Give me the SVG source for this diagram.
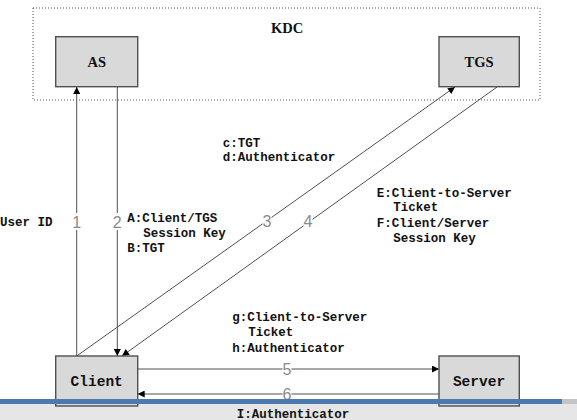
<svg xmlns="http://www.w3.org/2000/svg" width="577" height="420" viewBox="0 0 577 420">
<defs>
<style>
.box{fill:#d9d9d9;stroke:#505050;stroke-width:1.4}
.title{font-family:"Liberation Serif",serif;font-weight:bold;font-size:14.5px;fill:#111;text-anchor:middle}
.name{font-family:"Liberation Mono",monospace;font-weight:bold;font-size:14.5px;fill:#111;text-anchor:middle}
.lbl{font-family:"Liberation Mono",monospace;font-weight:bold;font-size:12.5px;fill:#111}
.num{font-family:"Liberation Sans",sans-serif;font-size:16px;fill:#8a8a8a;text-anchor:middle}
.ln{stroke:#505050;stroke-width:1;fill:none}
.nb{fill:#fff}
</style>
<marker id="ah" viewBox="0 0 10 10" refX="10" refY="5" markerWidth="8" markerHeight="7" markerUnits="userSpaceOnUse" orient="auto">
<path d="M0,0 L10,5 L0,10 z" fill="#000"/>
</marker>
</defs>
<rect width="577" height="420" fill="#fff"/>
<rect x="0" y="403" width="577" height="17" fill="#e6e6e6"/>
<g id="kdc">
<rect x="33" y="8" width="507" height="92" fill="none" stroke="#555" stroke-width="1" stroke-dasharray="1 2"/>
<text class="title" x="287" y="32.5" font-size="13px">KDC</text>
</g>
<g id="connectors">
<line class="ln" x1="76.7" y1="356" x2="76.7" y2="87" marker-end="url(#ah)"/>
<line class="ln" x1="117.3" y1="87" x2="117.3" y2="356" marker-end="url(#ah)"/>
<line class="ln" x1="76.7" y1="356" x2="455" y2="87" marker-end="url(#ah)"/>
<line class="ln" x1="497" y1="87" x2="122" y2="356" marker-end="url(#ah)"/>
<line class="ln" x1="137.7" y1="369" x2="439" y2="369" marker-end="url(#ah)"/>
<line class="ln" x1="439" y1="394" x2="137.7" y2="394" marker-end="url(#ah)"/>
<rect class="nb" x="72" y="213" width="9.5" height="17"/>
<text class="num" x="76.7" y="227.5">1</text>
<rect class="nb" x="112.5" y="213" width="9.5" height="17"/>
<text class="num" x="117.3" y="227.5">2</text>
<rect class="nb" x="262.5" y="214" width="9" height="14"/>
<text class="num" x="267" y="227">3</text>
<rect class="nb" x="303.5" y="214" width="9" height="14"/>
<text class="num" x="308" y="227">4</text>
<rect class="nb" x="282.5" y="363" width="9" height="12"/>
<text class="num" x="287" y="375">5</text>
<rect class="nb" x="282.5" y="388" width="9" height="11"/>
<text class="num" x="287" y="400">6</text>
</g>
<g id="as">
<rect class="box" x="55.7" y="36.7" width="82" height="50"/>
<text class="title" x="96.7" y="66.5">AS</text>
</g>
<g id="tgs">
<rect class="box" x="439" y="36.7" width="80.3" height="50"/>
<text class="title" x="479" y="66.5">TGS</text>
</g>
<g id="client">
<rect class="box" x="55.7" y="356" width="82" height="50"/>
<text class="name" x="96.7" y="385.5">Client</text>
</g>
<g id="server">
<rect class="box" x="439" y="356" width="80.3" height="50"/>
<text class="name" x="479" y="385.5">Server</text>
</g>
<g id="labels">
<text class="lbl" x="0" y="226">User ID</text>
<text class="lbl" x="127.3" y="222">A:Client/TGS</text>
<text class="lbl" x="143.3" y="237">Session Key</text>
<text class="lbl" x="127.3" y="252">B:TGT</text>
<text class="lbl" x="222.7" y="147">c:TGT</text>
<text class="lbl" x="222.7" y="161">d:Authenticator</text>
<text class="lbl" x="376.7" y="197">E:Client-to-Server</text>
<text class="lbl" x="393.3" y="211">Ticket</text>
<text class="lbl" x="376.7" y="227">F:Client/Server</text>
<text class="lbl" x="393.3" y="242">Session Key</text>
<text class="lbl" x="232.3" y="321">g:Client-to-Server</text>
<text class="lbl" x="248.3" y="336">Ticket</text>
<text class="lbl" x="232.3" y="352">h:Authenticator</text>
<text class="lbl" x="236.7" y="417.5">I:Authenticator</text>
</g>
<rect x="0" y="399" width="562" height="5" fill="#4a7ab0"/>
<rect x="562" y="399" width="15" height="5" fill="#c4c4c4"/>
</svg>
